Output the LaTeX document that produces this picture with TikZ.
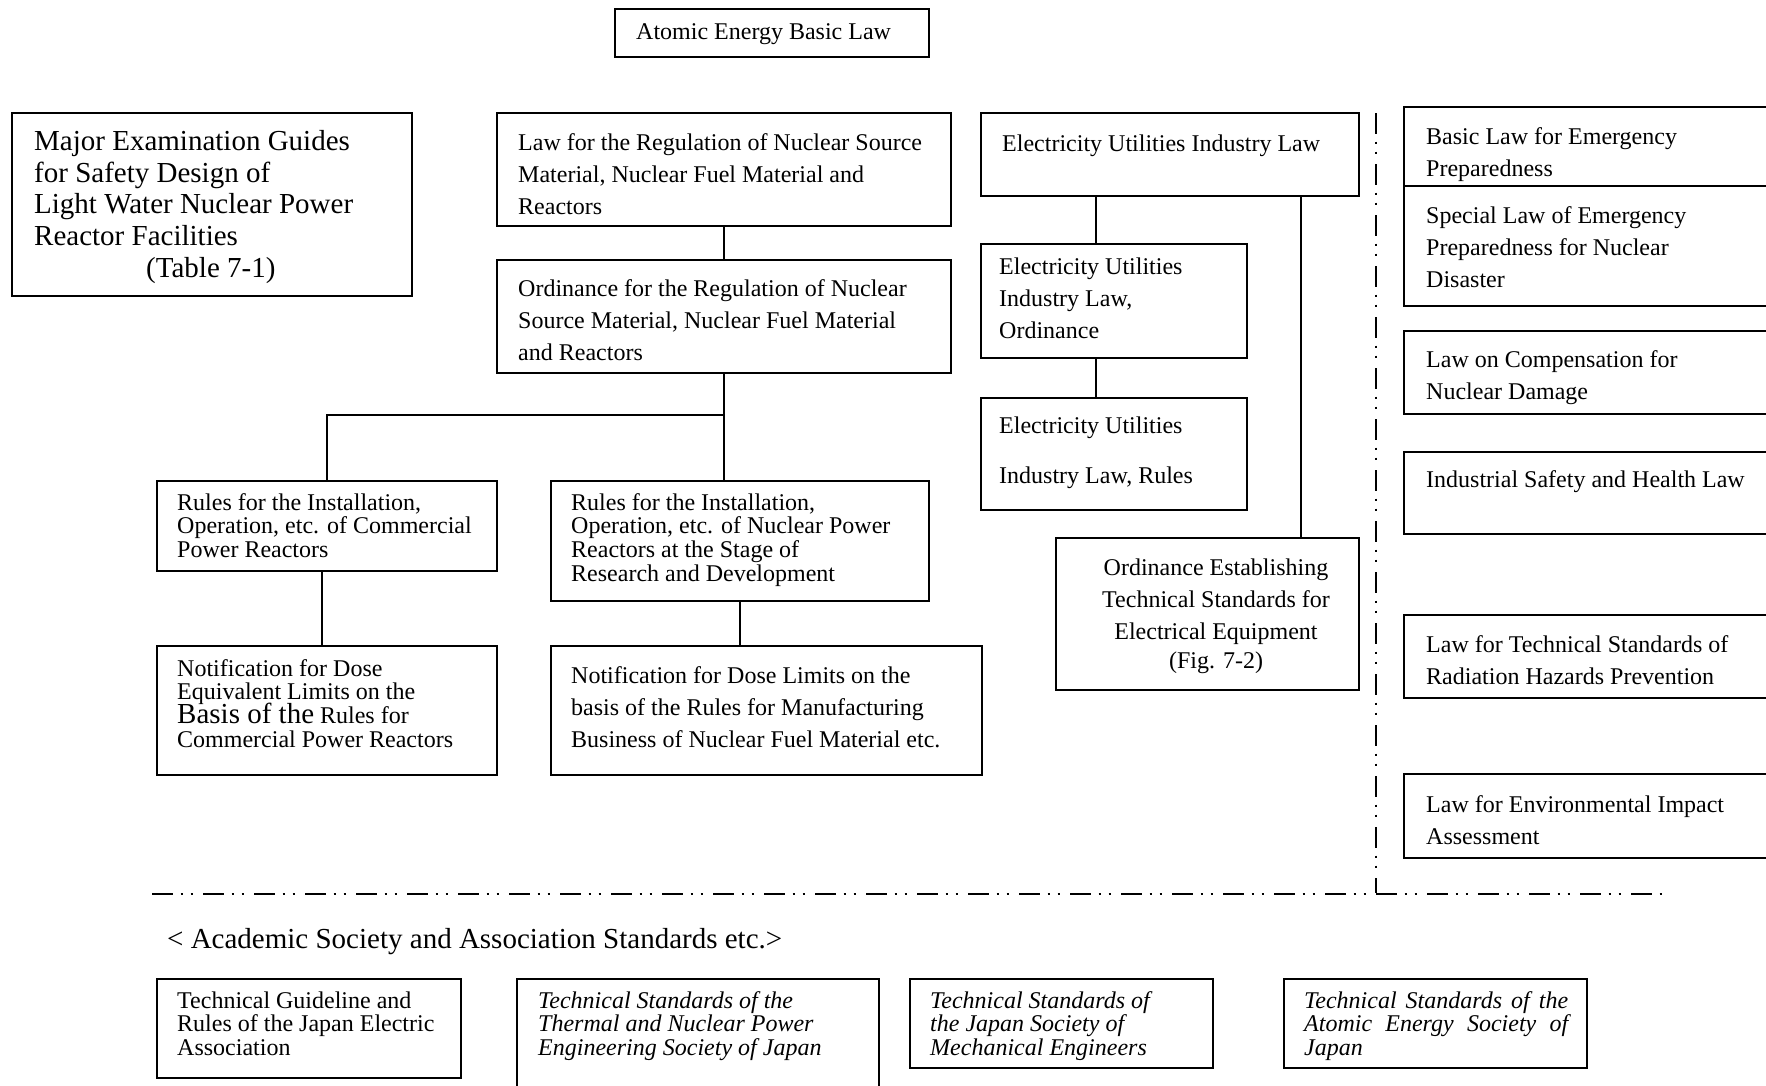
\documentclass[tikz,border=0pt]{standalone}
\usepackage{fontspec}
\setmainfont{Liberation Serif}
\usetikzlibrary{calc}

% a framed box given by its corners (x1,y1) and (x2,y2), y measured downwards
\newcommand\lawbox[5]{%
  \node[box, minimum width={(#4-#2)*1pt}, minimum height={(#5-#3)*1pt}]
    (#1) at ({(#2+#4)/2},{(#3+#5)/2}) {};}
% fixed first-line height, so that texts can be placed by their first baseline
\newcommand\fl{\vrule height 22pt depth 0pt width 0pt\relax}

\begin{document}
\lineskiplimit=-40pt
\begin{tikzpicture}[x=1pt, y=-1pt,
  box/.style={draw, line width=1.8pt, inner sep=0pt, outer sep=0pt},
  link/.style={line width=1.6pt},
  sepline/.style={line width=2.4pt,
    dash pattern=on 21pt off 7.5pt on 2.5pt off 7.5pt on 2.5pt off 10pt},
  txt/.style={inner sep=0pt, anchor=north west, yshift=22pt, align=left,
    font=\fontsize{24}{32}\selectfont},
  tight/.style={txt, font=\fontsize{24}{23.7}\selectfont},
  big/.style={txt, font=\fontsize{29}{31.8}\selectfont},
  ctxt/.style={txt, anchor=north, align=center},
  itl/.style={tight, font=\fontsize{24}{23.7}\selectfont\itshape}]

\useasboundingbox (0,0) rectangle (1766,1085);
\clip (0,0) rectangle (1766,1085);

% ---- boxes ----
\lawbox{atomic}{615}{9}{929}{57}
\lawbox{major}{12}{113}{412}{296}
\lawbox{lawreg}{497}{113}{951}{226}
\lawbox{ordreg}{497}{260}{951}{373}
\lawbox{comm}{157}{481}{497}{571}
\lawbox{rd}{551}{481}{929}{601}
\lawbox{notifA}{157}{646}{497}{775}
\lawbox{notifB}{551}{646}{982}{775}
\lawbox{eulaw}{981}{113}{1359}{196}
\lawbox{euord}{981}{244}{1247}{358}
\lawbox{eurules}{981}{398}{1247}{510}
\lawbox{ordest}{1056}{538}{1359}{690}
\lawbox{emerg}{1404}{107}{1795}{186}
\lawbox{special}{1404}{186}{1795}{306}
\lawbox{comp}{1404}{331}{1795}{414}
\lawbox{indus}{1404}{452}{1795}{534}
\lawbox{rad}{1404}{615}{1795}{698}
\lawbox{env}{1404}{774}{1795}{858}
\lawbox{jea}{157}{979}{461}{1078}
\lawbox{tenp}{517}{979}{879}{1100}
\lawbox{jsme}{910}{979}{1213}{1068}
\lawbox{aesj}{1284}{979}{1587}{1068}

% ---- texts ----
\node[txt] (atomic-t) at (636,39) {\fl Atomic Energy Basic Law};
\node[big] (major-t) at (34,150) {\fl Major Examination Guides\\for Safety Design of\\Light Water Nuclear Power\\Reactor Facilities\\\hspace*{112pt}(Table 7-1)};
\node[txt] (lawreg-t) at (518,150) {\fl Law for the Regulation of Nuclear Source\\Material, Nuclear Fuel Material and\\Reactors};
\node[txt] (ordreg-t) at (518,296) {\fl Ordinance for the Regulation of Nuclear\\Source Material, Nuclear Fuel Material\\and Reactors};
\node[tight] (comm-t) at (177,510) {\fl Rules for the Installation,\\Operation, etc. of Commercial\\Power Reactors};
\node[tight] (rd-t) at (571,510) {\fl Rules for the Installation,\\Operation, etc. of Nuclear Power\\Reactors at the Stage of\\Research and Development};
\node[tight] (notifA-t) at (177,676) {\fl Notification for Dose\\Equivalent Limits on the\\{\fontsize{29}{24}\selectfont Basis of the} Rules for\\Commercial Power Reactors};
\node[txt] (notifB-t) at (571,683) {\fl Notification for Dose Limits on the\\basis of the Rules for Manufacturing\\Business of Nuclear Fuel Material etc.};
\node[txt] (eulaw-t) at (1002,151) {\fl Electricity Utilities Industry Law};
\node[txt] (euord-t) at (999,274) {\fl Electricity Utilities\\Industry Law,\\Ordinance};
\node[txt] (eurules-t) at (999,433) {\fl Electricity Utilities\\[18pt]Industry Law, Rules};
\node[ctxt] (ordest-t) at (1216,575) {\fl Ordinance Establishing\\Technical Standards for\\Electrical Equipment\\[-3pt](Fig. 7-2)};
\node[txt] (emerg-t) at (1426,144) {\fl Basic Law for Emergency\\Preparedness};
\node[txt] (special-t) at (1426,223) {\fl Special Law of Emergency\\Preparedness for Nuclear\\Disaster};
\node[txt] (comp-t) at (1426,367) {\fl Law on Compensation for\\Nuclear Damage};
\node[txt] (indus-t) at (1426,487) {\fl Industrial Safety and Health Law};
\node[txt] (rad-t) at (1426,652) {\fl Law for Technical Standards of\\Radiation Hazards Prevention};
\node[txt] (env-t) at (1426,812) {\fl Law for Environmental Impact\\Assessment};
\node[big] (acad-t) at (167,948) {\fl < Academic Society and Association Standards etc.>};
\node[tight] (jea-t) at (177,1008) {\fl Technical Guideline and\\Rules of the Japan Electric\\Association};
\node[itl] (tenp-t) at (538,1008) {\fl Technical Standards of the\\Thermal and Nuclear Power\\Engineering Society of Japan};
\node[itl] (jsme-t) at (930,1008) {\fl Technical Standards of\\the Japan Society of\\Mechanical Engineers};
\node[itl] (aesj-t) at (1304,1008) {\fl\makebox[264pt][s]{Technical Standards of the}\\\makebox[264pt][s]{Atomic Energy Society of}\\Japan};

% ---- connectors ----
\coordinate (xeu) at (1096,0);
\coordinate (xest) at (1301,0);
\coordinate (junc) at (724,415);
\draw[link] (lawreg.south) -- (ordreg.north);
\draw[link] (ordreg.south) -- (ordreg.south |- rd.north);
\draw[link] (junc) -| (comm.north);
\draw[link] ([xshift=-5pt]comm.south) -- ([xshift=-5pt]notifA.north);
\draw[link] (rd.south) -- (rd.south |- notifB.north);
\draw[link] (eulaw.south -| xeu) -- (euord.north -| xeu);
\draw[link] (euord.south -| xeu) -- (eurules.north -| xeu);
\draw[link] (eulaw.south -| xest) -- (ordest.north -| xest);

% ---- separators ----
\coordinate (vtop) at (1376,113);
\coordinate (vbot) at (1376,893);
\coordinate (hleft) at (152,894);
\coordinate (hright) at (1667,894);
\draw[sepline] (vtop) -- (vbot);
\draw[sepline] (hleft) -- (hright);
\end{tikzpicture}
\end{document}
